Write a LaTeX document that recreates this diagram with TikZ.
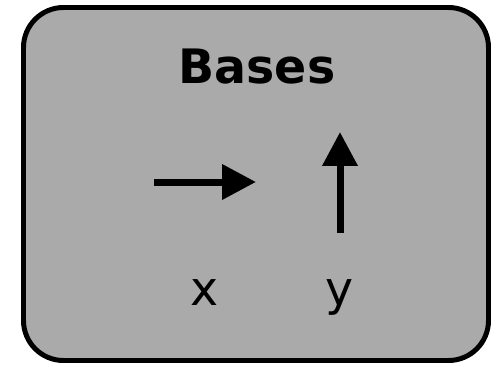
\documentclass[tikz,border=0pt]{standalone}
\usepackage{fontspec}
\setmainfont{DejaVu Sans}
\usetikzlibrary{arrows.meta,positioning}
\definecolor{bsink}{HTML}{000000}
\definecolor{bsgray}{HTML}{AAAAAA}
\tikzset{
  bs panel/.style={draw=bsink, line width=5pt*0.5669, rounded corners=0.8cm, fill=bsgray},
  bs title/.style={font=\fontsize{27}{31}\selectfont\bfseries, text=bsink, anchor=base},
  bs label/.style={font=\fontsize{27}{31}\selectfont, text=bsink, anchor=base},
  bs arrow/.style={-{Triangle[length=0.68cm,width=0.68cm]}, line width=0.14cm,
    draw=bsink, line cap=butt}
}

\begin{document}
\begin{tikzpicture}[x=0.02cm, y=0.02cm]
  \useasboundingbox (0,0) rectangle (497,366);
  \draw[bs panel] (23.5,5.5) rectangle (488.5,358.5);
  \node[bs title] (title) at (257,283) {Bases};
  % the two basis vectors
  \coordinate (xfrom) at (154,184);
  \coordinate (xto) at (256,184);
  \coordinate (yfrom) at (340,133);
  \coordinate (yto) at (340,234);
  \draw[bs arrow] (xfrom) -- (xto);
  \draw[bs arrow] (yfrom) -- (yto);
  \node[bs label] (xlab) at (204.5,61) {x};
  \node[bs label] (ylab) at (340,61) {y};
\end{tikzpicture}
\end{document}
